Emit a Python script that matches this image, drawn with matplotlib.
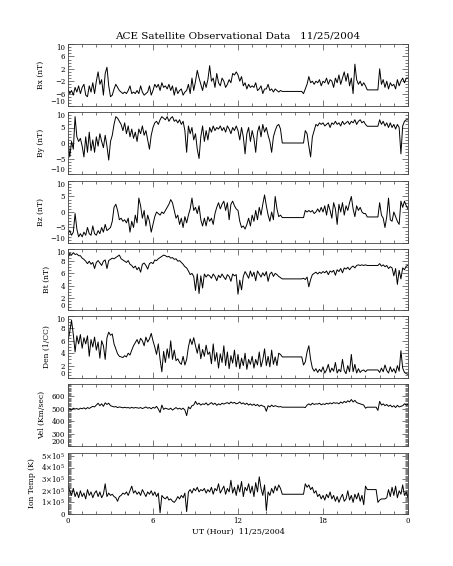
import numpy as np
import matplotlib.pyplot as plt
from matplotlib.ticker import MultipleLocator, FixedLocator, FixedFormatter

plt.rcParams['font.family'] = ['DejaVu Serif']
plt.rcParams['mathtext.fontset'] = 'dejavuserif'

# values every 7.5 min, one row per hour, 00 UT to 24 UT
bx = [-4.5, -6.0, -5.0, -6.5, -4.0, -5.5, -3.5, -6.0,
      -4.0, -3.0, -6.5, -7.0, -3.5, -5.5, -2.5, -6.0,
      -2.0, 1.0, -3.0, -1.5, -6.5, 0.5, 2.5, -3.5,
      -7.0, -6.5, -4.5, -3.0, -4.0, -5.0, -5.5, -6.0,
      -5.5, -6.0, -5.0, -3.5, -6.0, -5.5, -6.0, -5.0,
      -6.0, -3.5, -5.5, -6.5, -6.0, -5.5, -3.5, -6.5,
      -5.0, -3.0, -4.0, -3.0, -5.0, -2.5, -4.0, -3.5,
      -4.5, -3.0, -5.0, -3.5, -6.5, -4.0, -6.0, -5.0,
      -4.5, -6.5, -5.5, -5.0, -3.0, -6.0, -1.0, -5.0,
      -2.0, 1.5, -1.0, -3.0, -5.0, -2.0, -4.0, -1.5,
      3.0, -2.0, -1.0, -4.0, 0.5, -2.5, -3.5, -1.0,
      -2.0, -4.0, -3.0, -1.5, -2.5, 0.5, 0.0, 1.0,
      0.0, -2.0, -0.5, -3.5, -2.5, -4.5, -3.0, -4.0,
      -3.5, -4.0, -2.5, -5.0, -4.5, -3.5, -6.0, -4.5,
      -4.5, -3.0, -5.0, -4.5, -5.5, -4.5, -5.0, -5.5,
      -5.0, -5.3, -5.3, -5.3, -5.3, -5.3, -5.3, -5.3,
      -5.3, -5.3, -5.3, -5.3, -5.3, -6.0, -4.5, -3.0,
      -0.5, -2.5, -2.0, -3.0, -2.0, -2.5, -1.5, -3.5,
      -2.0, -2.5, -1.0, -3.0, -1.5, -2.0, -4.0, -1.0,
      -2.5, 0.0, -3.0, -1.0, 1.0, -2.0, 0.5, -3.5,
      -1.0, -6.0, 3.5, -1.5, -3.0, -2.0, -3.5, -2.5,
      -3.5, -4.8, -4.8, -4.8, -4.8, -4.8, -4.8, -4.8,
      2.0, -3.0, -1.5, -4.0, -2.0, -4.5, -2.5, -3.5,
      -3.0, -4.5, -1.5, -3.5, -2.0, -1.0, -2.5, -1.0,
      -1.0]

by = [1.0, -4.5, 0.5, -2.0, 8.5, 2.0, 0.5, 1.5,
      -1.0, -4.5, 2.0, -3.0, 3.5, -2.5, 1.0, -3.0,
      2.0, -1.0, 3.0, 0.5, -1.5, 2.5, -1.0, -5.5,
      0.5, 2.5, 6.0, 8.5, 8.0, 7.0, 6.0, 4.0,
      6.5, 3.0, 5.5, 2.0, 4.5, 1.5, 3.5, 0.5,
      4.5, 3.0, 5.5, 2.5, 4.0, 1.0, -2.0, 2.5,
      5.0, 6.5, 7.0, 6.0, 7.5, 8.5, 8.0, 7.5,
      8.5, 7.0, 8.0, 8.5, 7.0, 7.5, 6.5, 7.5,
      6.0, 7.0, 4.0, -3.0, 5.5, 3.0, 5.0, 1.0,
      3.0, -2.0, -5.0, 2.0, 5.5, 0.5, 4.0, 1.0,
      5.0, 3.5, 5.5, 4.0, 5.0, 4.5, 5.5, 4.0,
      5.0, 3.5, 5.5, 4.5, 3.0, 5.0, 4.0, 5.5,
      4.0, 1.0, 5.0, 2.0, -3.5, 3.0, 5.0, 0.5,
      4.0, 1.5, -3.0, 3.5, 5.5, 2.0, 6.0, 3.5,
      5.0, 2.5, 0.5, -3.0, 2.0, 4.0, 5.5, 6.0,
      4.5, 0.0, 0.0, 0.0, 0.0, 0.0, 0.0, 0.0,
      0.0, 0.0, 0.0, 0.0, 0.0, 0.0, 4.0, 3.0,
      -1.0, -4.5, 2.0, 4.0, 6.0, 5.5, 6.5, 6.0,
      6.5, 5.5, 6.0, 6.5, 5.0, 6.5, 6.0, 7.0,
      6.0, 6.5, 5.5, 7.0, 6.0, 6.5, 7.0, 6.0,
      7.0, 6.5, 7.5, 6.0, 7.0, 7.5, 6.5, 7.0,
      6.0, 5.4, 5.4, 5.4, 5.4, 5.4, 5.4, 5.4,
      7.5, 6.0, 7.0, 5.5, 6.5, 5.0, 6.5, 5.0,
      6.0, 4.5, 6.0, 5.0, -3.5, 5.5, 7.0, 7.5,
      7.5]

bz = [-7.0, -6.0, -7.5, -6.5, -0.5, -5.5, -8.0, -7.0,
      -8.0, -6.5, -7.5, -5.0, -7.0, -7.5, -4.5, -7.0,
      -7.5, -6.0, -7.0, -5.0, -6.5, -4.0, -6.0, -5.5,
      -5.0, -3.0, 1.5, 2.5, 0.5, -2.5, -2.0, -3.0,
      -2.5, -3.5, -2.0, -6.5, -3.0, -5.0, -1.0, -3.5,
      4.5, 2.0, -2.0, 0.5, -4.5, -1.0, -3.0, -6.5,
      -4.0, -1.5, 0.0, -0.5, -1.0, 0.0, -0.5, 0.5,
      1.5, 2.5, 4.0, 3.0, 0.5, -2.0, -1.0, -4.0,
      -2.0, -5.0, -1.5, -3.5, -1.0, 1.0, 4.5, 0.5,
      1.5, -0.5, 2.0, -2.5, -4.5, -2.0, -4.5, -1.5,
      -3.0, -2.0, -4.0, -0.5, 1.5, 3.0, 1.0, 2.5,
      3.5, 0.5, 3.0, -2.5, 2.5, 3.5, 2.0, 1.0,
      0.5, -3.0, -5.0, -4.5, -5.5, -4.0, -2.0, -4.5,
      -1.0, -3.0, 0.5, -2.5, 1.5, -1.0, 2.5, 5.5,
      2.0, -1.0, -3.0, 0.0, -2.5, 5.0, 1.0, -1.5,
      -1.0, -1.8, -1.8, -1.8, -1.8, -1.8, -1.8, -1.8,
      -1.8, -1.8, -1.8, -1.8, -1.8, -1.8, 0.5, 0.0,
      0.5, 0.0, 0.5, -0.5, 0.0, 1.0, 0.0, 1.5,
      0.0, 2.0, -1.0, 2.5, 0.5, -2.0, 3.0, 1.0,
      -4.0, 2.5, 0.0, 3.0, -1.0, 2.0, 0.5, 3.0,
      5.0, 1.0, -1.5, 2.0, 0.5, 1.5, 0.0, -0.5,
      -0.5, -1.6, -1.6, -1.6, -1.6, -1.6, -1.6, -1.6,
      3.0, -1.0, -2.0, -5.0, -1.5, 4.5, -2.5, -3.0,
      0.0, -1.5, -3.0, -4.0, 3.5, 1.5, 3.5, 2.0,
      1.0]

bt = [8.5, 9.3, 9.0, 9.4, 9.1, 9.2, 8.9, 8.9,
      8.5, 8.3, 8.0, 7.6, 8.0, 7.5, 7.8, 6.8,
      7.8, 8.1, 7.7, 7.3, 8.0, 8.2, 6.8, 8.1,
      8.3, 8.5, 8.4, 8.6, 8.8, 9.0, 8.4, 8.2,
      8.0, 7.8, 8.1, 7.5, 7.3, 6.9, 7.2, 6.6,
      7.0, 6.2, 7.5, 7.7, 7.3, 6.7, 7.6, 7.8,
      7.6, 8.2, 8.1, 8.4, 8.6, 8.8, 9.0, 8.9,
      8.7, 8.8, 8.5, 8.6, 8.3, 8.4, 8.0, 8.1,
      7.8, 7.5, 7.1, 6.9, 6.4, 5.8, 6.0, 5.5,
      3.2, 5.9, 2.7, 5.6, 3.6, 5.9, 5.4, 5.8,
      5.6, 5.2, 5.9, 5.5, 4.8, 5.7, 5.3, 5.9,
      5.4, 5.0, 5.8, 5.5, 4.7, 5.9, 5.6, 5.8,
      2.6, 4.9, 3.3, 5.5, 6.3, 5.8, 5.2, 6.4,
      5.5, 6.2, 4.8, 6.4, 5.9, 5.4, 6.1, 5.6,
      6.3, 4.7, 5.9, 6.2, 5.5, 6.0, 5.8, 5.5,
      5.3, 5.1, 5.1, 5.1, 5.1, 5.1, 5.1, 5.1,
      5.1, 5.1, 5.1, 5.1, 5.1, 5.2, 5.0, 5.4,
      3.8, 5.0, 5.8, 6.0, 6.2, 5.9, 6.2, 6.0,
      6.3, 6.1, 6.4, 5.8, 6.4, 6.2, 6.5, 5.7,
      6.6, 6.3, 6.8, 6.1, 6.9, 6.7, 7.0, 6.6,
      7.0, 7.2, 6.9, 7.3, 7.4, 7.3, 7.4, 7.3,
      7.4, 7.3, 7.3, 7.3, 7.3, 7.3, 7.3, 7.3,
      7.6, 7.2, 7.4, 7.1, 7.3, 6.8, 7.1, 6.9,
      5.6, 6.8, 4.2, 6.5, 5.1, 6.9, 6.6, 7.2,
      7.3]

den = [6.0, 7.5, 9.3, 7.0, 4.2, 6.8, 5.5, 7.0,
       4.8, 6.5, 5.5, 6.8, 3.5, 6.2, 5.0, 6.6,
       4.5, 5.8, 3.2, 6.0, 5.2, 3.0, 6.5, 7.4,
       6.9, 7.1, 5.5, 4.7, 3.9, 3.5, 3.4, 3.3,
       3.6, 3.4, 4.0, 3.7, 4.5, 5.2, 5.7, 6.2,
       5.5, 6.4, 6.0, 5.2, 6.6, 5.8, 6.3, 7.2,
       6.0, 5.0, 3.8, 5.5, 3.0, 1.0, 4.3, 2.5,
       4.7, 3.2, 6.0, 3.0, 4.5, 2.8, 3.1, 2.5,
       2.2, 3.5, 2.1, 3.0, 5.0, 6.3, 5.4, 6.5,
       5.2, 4.0, 5.5, 3.1, 4.6, 3.5, 5.3, 3.8,
       4.2, 2.3, 5.5, 2.7, 4.1, 1.6, 3.9, 2.5,
       5.2, 2.0, 4.2, 1.5, 3.6, 2.4, 4.5, 1.8,
       3.8, 1.5, 3.2, 2.0, 4.0, 1.4, 3.0, 2.2,
       3.5, 1.6, 3.0, 2.1, 4.2, 1.8, 2.9, 4.7,
       2.0, 3.5, 1.8, 4.5, 2.2, 3.4, 2.0, 4.0,
       3.8, 3.4, 3.4, 3.4, 3.4, 3.4, 3.4, 3.4,
       3.4, 3.4, 3.4, 3.4, 3.4, 2.1, 2.6, 4.2,
       5.2, 3.0, 1.6, 1.1, 1.5, 0.9, 1.4, 1.0,
       1.8, 0.8, 1.3, 2.2, 0.9, 1.6, 1.1, 2.5,
       0.8, 1.4, 1.0, 3.0, 1.2, 0.7, 2.0, 1.0,
       3.8, 1.0, 2.2, 0.8, 1.5, 0.9, 1.2, 1.3,
       1.0, 1.3, 1.3, 1.3, 1.3, 1.3, 1.3, 1.3,
       0.9, 1.6, 1.0, 2.1, 1.2, 0.8, 1.8, 1.0,
       1.5, 0.8, 2.0, 1.1, 4.4, 1.6, 0.9, 0.7,
       0.6]

vel = [495, 500, 490, 505, 498, 502, 495, 505,
       500, 508, 498, 510, 503, 512, 520, 515,
       530, 545, 525, 540, 520, 548, 535, 545,
       525, 520, 515, 518, 510, 515, 512, 508,
       512, 508, 510, 505, 512, 506, 510, 508,
       505, 510, 502, 508, 515, 505, 510, 500,
       512, 505, 520, 498, 470, 530, 495, 505,
       500, 495, 505, 490, 500, 510, 498, 505,
       495, 505, 490, 445, 515, 500, 525, 530,
       560, 535, 545, 530, 540, 535, 548, 530,
       540, 550, 535, 545, 528, 540, 532, 545,
       538, 545, 550, 540, 555, 545, 552, 540,
       545, 555, 540, 548, 535, 545, 530, 540,
       528, 538, 525, 535, 520, 530, 522, 518,
       480, 525, 515, 530, 518, 525, 520, 515,
       518, 513, 513, 513, 513, 513, 513, 513,
       513, 513, 513, 513, 513, 513, 510, 530,
       540, 530, 545, 535, 540, 538, 545, 532,
       540, 535, 545, 538, 548, 540, 550, 545,
       548, 540, 555, 545, 560, 550, 565, 555,
       575, 555, 568, 550, 545, 540, 535, 530,
       505, 513, 513, 513, 513, 513, 513, 487,
       560, 530, 540, 525, 535, 520, 530, 515,
       525, 510, 528, 515, 520, 525, 540, 530,
       535]

# ion temperature in units of 1e5 K
temp = [2.4, 2.0, 1.6, 2.2, 1.5, 1.9, 1.4, 2.0,
        1.5, 1.8, 1.3, 2.1, 1.6, 1.9, 1.4, 1.8,
        2.0, 1.5, 1.9, 1.4, 1.7, 2.6, 1.5, 1.8,
        1.6, 1.7, 1.5, 1.4, 1.1, 1.5, 1.6, 1.8,
        1.7, 1.9, 1.6, 2.0, 2.4, 1.8, 2.0, 1.7,
        1.9, 1.6, 2.1, 1.8, 1.5, 1.9, 1.7, 2.0,
        1.6, 1.9, 1.5, 1.8, 0.1, 1.6, 1.4, 1.3,
        1.5, 1.2, 1.3, 1.1, 1.0, 1.2, 1.5, 1.3,
        1.6, 1.4, 1.8, 0.2, 1.9, 2.1, 1.8, 2.2,
        2.0, 2.3, 1.9, 2.1, 2.0, 2.2, 1.8, 2.1,
        1.9, 2.3, 1.7, 2.2, 2.0, 2.6, 1.8, 2.1,
        2.4, 1.7, 2.2, 1.9, 2.9, 1.8, 2.3, 1.6,
        2.5, 1.9, 2.8, 1.5, 2.3, 2.0, 2.6, 1.8,
        2.4, 1.5, 2.7, 1.9, 3.2, 2.2, 1.6, 2.5,
        0.3, 1.9, 1.6, 2.2, 1.8, 2.4, 2.0, 2.5,
        2.2, 1.7, 1.7, 1.7, 1.7, 1.7, 1.7, 1.7,
        1.7, 1.7, 1.7, 1.7, 1.7, 1.7, 2.6, 2.3,
        2.5, 2.1, 2.3, 1.8, 2.0, 1.5, 1.7, 1.3,
        1.6, 1.2, 1.7, 1.4, 1.9, 1.3, 1.6, 1.1,
        1.5, 1.0, 1.4, 1.7, 1.1, 1.3, 2.0, 1.2,
        1.6, 1.0, 1.7, 1.3, 1.8, 1.1, 1.6, 0.8,
        2.4, 2.1, 2.1, 2.1, 2.1, 2.1, 2.1, 1.0,
        1.2, 1.3, 1.3, 1.3, 1.4, 2.1, 1.5, 2.3,
        1.6, 2.4, 1.4, 2.0, 1.7, 2.5, 1.6, 1.9,
        1.4]

series = [bx, by, bz, bt, den, vel, np.array(temp) * 1e5]
ylabels = ['Bx (nT)', 'By (nT)', 'Bz (nT)', 'Bt (nT)', 'Den (1/CC)',
           'Vel (Km/sec)', 'Ion Temp (K)']
ylims = [(-10, 10), (-10, 10), (-10, 10), (0, 10), (0, 10), (200, 700), (0, 5.25e5)]
yticks = [[-10, -6, -2, 2, 6, 10], [-10, -5, 0, 5, 10], [-10, -5, 0, 5, 10],
          [0, 2, 4, 6, 8, 10], [0, 2, 4, 6, 8, 10], [200, 300, 400, 500, 600],
          [0, 1e5, 2e5, 3e5, 4e5, 5e5]]
yminor = [1, 1, 1, 0.5, 0.5, 10, 1e4]
temp_labels = ['0'] + [r'$%d{\times}10^5$' % i for i in range(1, 6)]

W, H = 453, 566
fig = plt.figure(figsize=(W / 100, H / 100), dpi=100)
tops = [44, 112, 181, 249, 316, 384, 453]
bots = [106, 174, 243, 310, 378, 446, 514]
axes = []
for i in range(7):
    ax = fig.add_axes([68 / W, 1 - bots[i] / H, 340 / W, (bots[i] - tops[i]) / H])
    v = series[i]
    t = np.linspace(0, 24, len(v))
    ax.plot(t, v, color='k', lw=0.7)
    ax.set_xlim(0, 24)
    ax.set_ylim(*ylims[i])
    ax.yaxis.set_major_locator(FixedLocator(yticks[i]))
    ax.yaxis.set_minor_locator(MultipleLocator(yminor[i]))
    if i == 6:
        ax.yaxis.set_major_formatter(FixedFormatter(temp_labels))
    ax.xaxis.set_major_locator(FixedLocator([0, 6, 12, 18, 24]))
    ax.xaxis.set_minor_locator(MultipleLocator(1))
    ax.tick_params(which='both', direction='in', top=True, right=True,
                   labelsize=5, width=0.5, color='#444', pad=2)
    ax.tick_params(which='major', length=4)
    ax.tick_params(which='minor', length=2)
    for s in ax.spines.values():
        s.set_linewidth(0.6)
        s.set_color('#444')
    ax.set_ylabel(ylabels[i], fontsize=5.5, labelpad=4)
    if i < 6:
        ax.set_xticklabels([])
        # keep edge labels inside the panel height, as in the original
        lo, hi = ylims[i]
        for val, lab in zip(yticks[i], ax.get_yticklabels()):
            if val == lo:
                lab.set_va('bottom')
            elif val == hi:
                lab.set_va('top')
    else:
        ax.set_xticklabels(['0', '6', '12', '18', '0'])
        ax.set_xlabel('UT (Hour)  11/25/2004', fontsize=5.8, labelpad=2)
    axes.append(ax)

axes[0].set_title('ACE Satellite Observational Data   11/25/2004', fontsize=7.5, pad=4)

fig.savefig('out.png', dpi=100)
